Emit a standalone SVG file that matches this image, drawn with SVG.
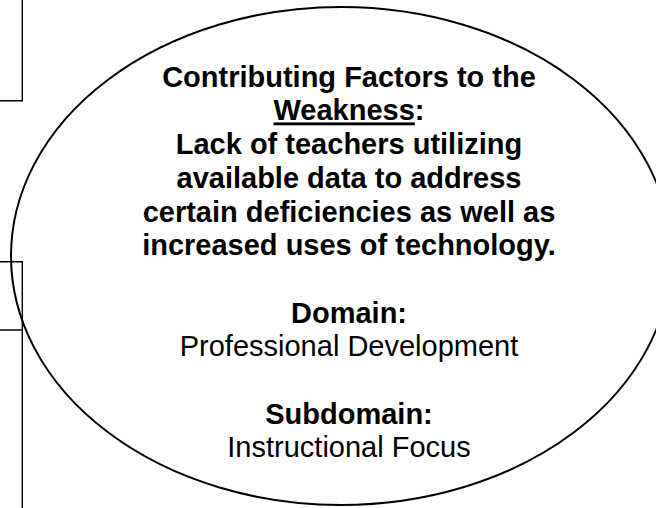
<svg xmlns="http://www.w3.org/2000/svg" width="656" height="508" viewBox="0 0 656 508">
<style>
.b{font-family:"Liberation Sans",Arial,sans-serif;font-size:29px;font-weight:bold;fill:#000;text-anchor:middle}
.r{font-family:"Liberation Sans",Arial,sans-serif;font-size:29px;fill:#000;text-anchor:middle}
.edge{fill:none;stroke:#000;stroke-width:1.4}
</style>
<rect width="656" height="508" fill="#fff"/>
<g id="box-top-left">
<path class="edge" d="M0,100.7 H22.3 V0"/>
</g>
<g id="box-mid-left">
<path class="edge" d="M0,261.7 H22.3 V330 H0"/>
</g>
<g id="box-bottom-left">
<path class="edge" d="M22.3,330 V508"/>
</g>
<g id="weakness-ellipse">
<ellipse cx="341" cy="256" rx="330" ry="249" fill="none" stroke="#000" stroke-width="2"/>
<text class="b" x="349" y="86.7">Contributing Factors to the</text>
<text class="b" x="349" y="120.4"><tspan text-decoration="underline">Weakness</tspan>:</text>
<text class="b" x="349" y="154.1">Lack of teachers utilizing</text>
<text class="b" x="349" y="187.8">available data to address</text>
<text class="b" x="349" y="221.5">certain deficiencies as well as</text>
<text class="b" x="349" y="255.2">increased uses of technology.</text>
<text class="b" x="349" y="322.6">Domain:</text>
<text class="r" x="349" y="356.3">Professional Development</text>
<text class="b" x="349" y="423.7">Subdomain:</text>
<text class="r" x="349" y="457.4">Instructional Focus</text>
</g>
<g id="connectors"></g>
</svg>
